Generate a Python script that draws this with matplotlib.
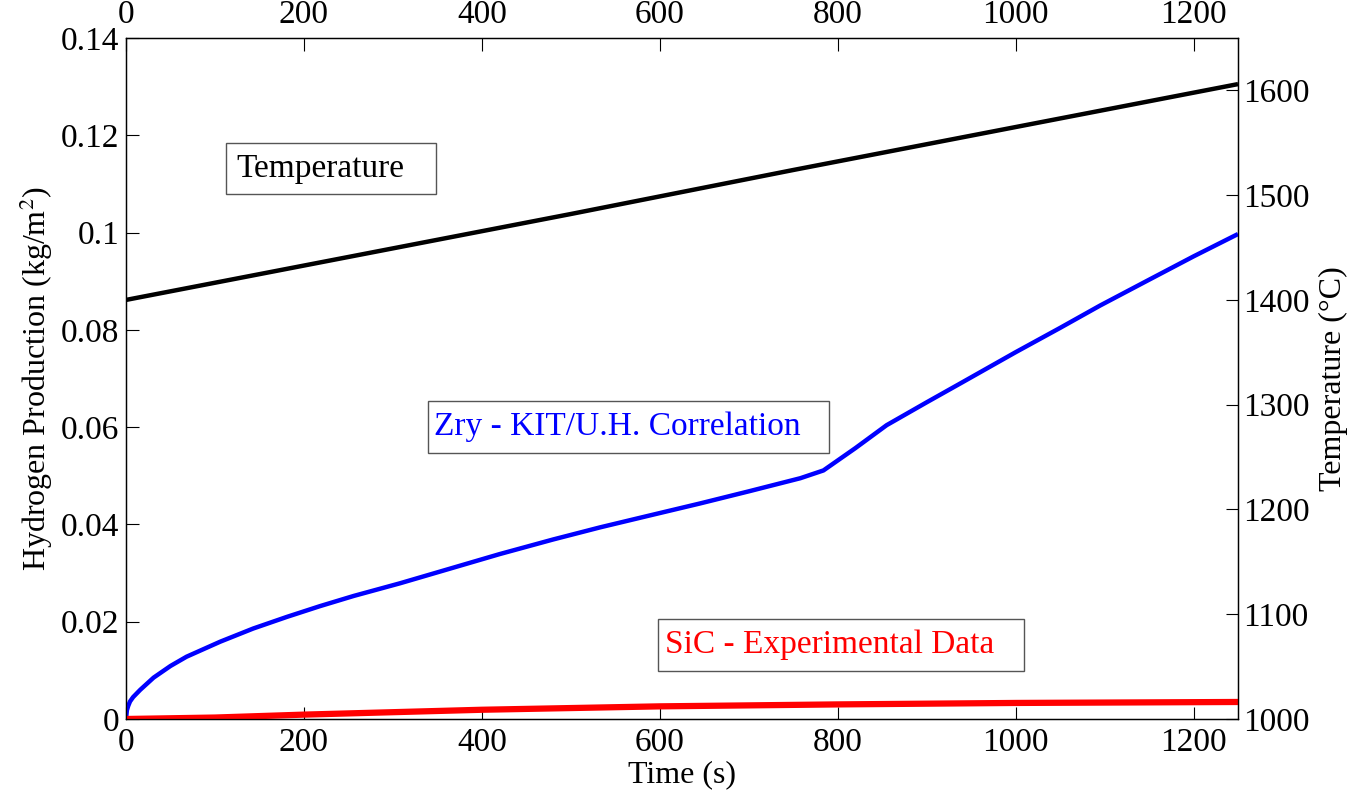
import matplotlib
matplotlib.use("Agg")
import matplotlib.pyplot as plt
from matplotlib.patches import Rectangle

plt.rcParams['font.family'] = ['Liberation Serif', 'DejaVu Serif']
plt.rcParams['mathtext.fontset'] = 'stix'

# Data
zry_time = [0, 1, 2.5, 4.5, 8, 16, 31, 50, 68, 106, 143, 181, 218, 256, 308,
            364, 420, 480, 533, 590, 645, 700, 758, 784, 820, 855, 900, 938,
            1000, 1050, 1095, 1150, 1200, 1250]
zry_h2 = [0.0, 0.0018, 0.0027, 0.0036, 0.0045, 0.0060, 0.0085, 0.0109, 0.0128,
          0.0159, 0.0186, 0.0210, 0.0232, 0.0253, 0.0279, 0.0309, 0.0339,
          0.0369, 0.0394, 0.0419, 0.0443, 0.0468, 0.0495, 0.0511, 0.0557,
          0.0604, 0.0651, 0.0690, 0.0754, 0.0804, 0.0850, 0.0903, 0.0951,
          0.0997]
sic_time = [0, 100, 200, 400, 600, 800, 1000, 1250]
sic_h2 = [0.0, 0.0003, 0.0009, 0.0019, 0.0026, 0.0030, 0.0033, 0.0035]
temp_time = [0, 250, 500, 750, 1000, 1250]
temp_c = [1400, 1441, 1482, 1524, 1565, 1606]

x_ticks = [0, 200, 400, 600, 800, 1000, 1200]
y_ticks = [0, 0.02, 0.04, 0.06, 0.08, 0.1, 0.12, 0.14]
y_ticklabels = ['0', '0.02', '0.04', '0.06', '0.08', '0.1', '0.12', '0.14']
t_ticks = [1000, 1100, 1200, 1300, 1400, 1500, 1600]

fig = plt.figure(figsize=(13.49, 7.90), dpi=100)
ax = fig.add_axes([126/1349, 1 - 719/790, (1238-126)/1349, (719-38)/790])
ax2 = ax.twinx()

ax.plot(zry_time, zry_h2, color='#0000FF', lw=3.2, solid_capstyle='butt',
        solid_joinstyle='round', zorder=3)
ax.plot(sic_time, sic_h2, color='#FF0000', lw=4.5, solid_capstyle='butt', zorder=3)
ax2.plot(temp_time, temp_c, color='black', lw=3.2, solid_capstyle='butt')

ax.set_xlim(0, 1250)
ax.set_ylim(0, 0.14)
ax2.set_ylim(1000, 1650)

fs_tick = 24
ax.set_xticks(x_ticks)
ax.set_yticks(y_ticks)
ax.set_yticklabels(y_ticklabels)
ax2.set_yticks(t_ticks)

ax.tick_params(axis='x', direction='in', length=9, width=0.8, top=True,
               labeltop=True, labelsize=fs_tick, pad=6)
ax.tick_params(axis='y', direction='in', length=9, width=0.8, right=False,
               labelsize=fs_tick, pad=5)
ax2.tick_params(axis='y', direction='in', length=9, width=0.8,
                labelsize=fs_tick, pad=4)

for a in (ax, ax2):
    for s in a.spines.values():
        s.set_linewidth(0.9)
        s.set_color('black')

ax.set_xlabel('Time (s)', fontsize=23, labelpad=2)
ax.set_ylabel(r'Hydrogen Production (kg/m$^2$)', fontsize=23, labelpad=4)
ax2.set_ylabel('Temperature (\u00b0C)', fontsize=23, labelpad=6)

# annotation boxes
boxes = [
    (112.4, 0.1079, 236.2, 0.0105, 123.7, 0.1132, 'Temperature', 'black'),
    (339.1, 0.0547, 451.3, 0.0107, 346.0, 0.0601, 'Zry - KIT/U.H. Correlation', '#0000FF'),
    (597.8, 0.0099, 411.9, 0.0107, 606.0, 0.0152, 'SiC - Experimental Data', '#FF0000'),
]
for x0, y0, w, h, tx, ty, label, col in boxes:
    ax.add_patch(Rectangle((x0, y0), w, h, facecolor='white', edgecolor='#555555',
                           lw=1.0, zorder=4))
    ax.text(tx, ty, label, color=col, fontsize=24, ha='left', va='center', zorder=5)

fig.savefig('out.png', dpi=100)
